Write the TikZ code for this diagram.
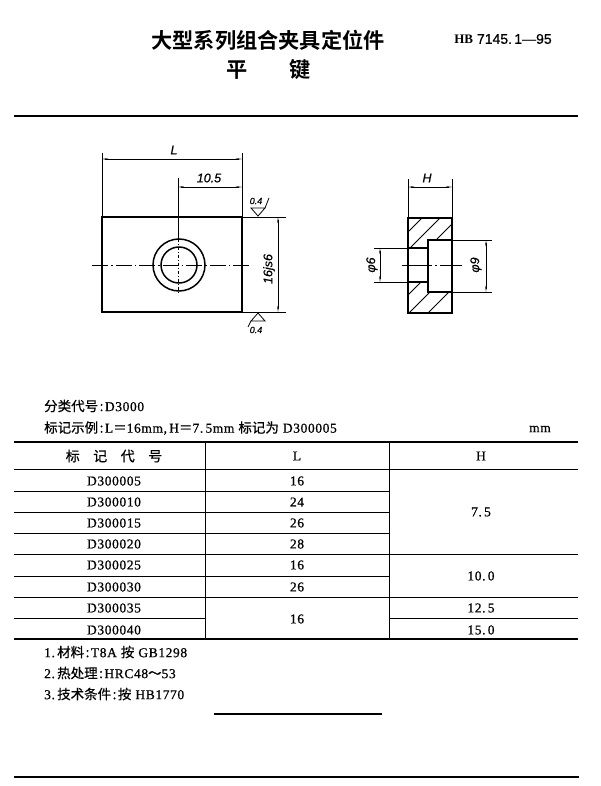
\documentclass[tikz,border=0pt]{standalone}
\usepackage{fontspec}
\usetikzlibrary{arrows.meta}
\setmainfont[FakeBold=0.7,LetterSpace=4.5]{Liberation Serif}
\newfontfamily\cjk[FakeBold=0.5]{Noto Sans CJK SC}
\newfontfamily\cjkb[BoldFont={Noto Sans CJK SC Bold}]{Noto Sans CJK SC}
\newfontfamily\drw[FakeBold=0.6]{Liberation Sans}
\newfontfamily\hbf{Liberation Serif}
\newcommand{\fs}[1]{\fontsize{#1}{#1}\selectfont}
\newcommand{\co}{\hspace{1.5pt}{\cjk :}\hspace{1.5pt}}
\tikzset{
  thick line/.style={line width=1.6pt,black},
  thin line/.style={line width=0.8pt,black},
  med line/.style={line width=1.5pt,black},
  dimline/.style={line width=0.8pt,black,{Stealth[length=6pt,width=1.8pt]}-{Stealth[length=6pt,width=1.8pt]}},
  center line/.style={line width=0.8pt,black,dash pattern=on 16pt off 3pt on 1.5pt off 3pt},
  drawing label/.style={inner sep=0pt,font=\drw\itshape\fs{12.5}},
  rough label/.style={inner sep=0pt,font=\drw\itshape\fs{9}},
  cell/.style={inner sep=0pt,font=\fs{13.5}},
  lefttext/.style={inner sep=0pt,anchor=west,font=\fs{13.5}},
  hatch/.style={line width=0.8pt,black}
}
\begin{document}
\begin{tikzpicture}[x=1pt,y=-1pt]
\useasboundingbox (0,0) rectangle (600,786);
\fill[white] (0,0) rectangle (600,786);
% title
\node[inner sep=0pt,font=\cjkb\bfseries\fs{21.2}] (title) at (268,40) {大型系列组合夹具定位件};
\node[inner sep=0pt,font=\cjkb\bfseries\fs{21.2}] (titleA) at (237,70) {平};
\node[inner sep=0pt,font=\cjkb\bfseries\fs{21.2}] (titleB) at (300,70) {键};
\node[inner sep=0pt,font=\drw\fs{14}] (code) at (503,39) {{\hbf\bfseries\fs{13}HB} 7145.\,1—95};
\draw[thick line] (14,116) -- (578,116);
\draw[thick line] (14,777) -- (579,777);
\draw[thick line] (214,714) -- (382,714);
% front view
\draw[med line] (102,217) rectangle (242,312);
\draw[center line] (92,265) -- (252,265);
\draw[thin line] (178,178) -- (178,239);
\draw[thin line,dash pattern=on 3pt off 2pt on 1pt off 2pt] (178,239) -- (178,295);
\draw[med line] (179,265) circle (26);
\draw[med line] (179,265) circle (18);
\draw[thin line] (102,153) -- (102,217);
\draw[thin line] (242,153) -- (242,217);
\draw[dimline] (102,159) -- (242,159);
\node[drawing label] (labL) at (174,150) {L};
\draw[dimline] (178,187) -- (242,187);
\node[drawing label] (lab105) at (209,178) {10.5};
\draw[thin line] (242,217) -- (286,217);
\draw[thin line] (242,312) -- (286,312);
\draw[dimline] (278,217) -- (278,312);
\node[drawing label,rotate=90] (labjs) at (269,269) {16js6};
% roughness marks
\draw[thin line] (258,216) -- (251,208) -- (265,208) -- cycle;
\draw[thin line] (265,208) -- (269,198);
\node[rough label] (r1) at (256,201) {0.4};
\draw[thin line] (258,313) -- (251,321) -- (265,321) -- cycle;
\draw[thin line] (251,321) -- (248,327);
\node[rough label] (r2) at (256,330) {0.4};
% section view
\begin{scope}
\clip (408,218) -- (452,218) -- (452,240) -- (428,240) -- (428,248) -- (408,248) -- cycle;
\foreach \s in {640,658,676}
  \draw[hatch] (\s-218,218) -- (\s-248,248);
\end{scope}
\begin{scope}
\clip (408,282) -- (428,282) -- (428,292) -- (452,292) -- (452,313) -- (408,313) -- cycle;
\foreach \s in {703,722,741}
  \draw[hatch] (\s-282,282) -- (\s-313,313);
\end{scope}
\draw[med line] (408,218) -- (452,218) -- (452,313) -- (408,313) -- cycle;
\draw[med line] (408,248) -- (428,248) -- (428,240) -- (452,240);
\draw[med line] (408,282) -- (428,282) -- (428,292) -- (452,292);
\draw[med line] (428,248) -- (428,282);
\draw[thin line,dash pattern=on 30pt off 3pt on 2pt off 3pt] (402,265) -- (462,265);
\draw[thin line] (408,179) -- (408,218);
\draw[thin line] (452,179) -- (452,218);
\draw[dimline] (408,187) -- (452,187);
\node[drawing label] (labH) at (427,178) {H};
\draw[thin line] (374,248) -- (408,248);
\draw[thin line] (374,282) -- (408,282);
\draw[dimline] (380,248) -- (380,282);
\node[drawing label,rotate=90] (labp6) at (372,265) {φ6};
\draw[thin line] (452,240) -- (492,240);
\draw[thin line] (452,292) -- (492,292);
\draw[dimline] (486,240) -- (486,292);
\node[drawing label,rotate=90] (labp9) at (476,265) {φ9};
% captions
\node[lefttext] (cap1) at (44,406) {{\cjk 分类代号}\co D3000};
\node[lefttext] (cap2) at (44,428) {{\cjk 标记示例}\co L{\cjk ＝}16mm,\,H{\cjk ＝}7.\,5mm {\cjk 标记为} D300005};
\node[inner sep=0pt,font=\fs{13.5}] (mm) at (540,429) {mm};
% table rules
\draw[thick line] (14,442) -- (578,442);
\draw[thin line] (14,469) -- (578,469);
\foreach \y in {491,512,533,576} \draw[thin line] (14,\y) -- (389,\y);
\draw[thin line] (14,554) -- (578,554);
\draw[thin line] (14,597) -- (578,597);
\draw[thin line] (14,618) -- (205,618);
\draw[thin line] (389,618) -- (578,618);
\draw[thick line] (14,639) -- (578,639);
\draw[thin line] (205,442) -- (205,639);
\draw[thin line] (389,442) -- (389,639);
% header
\node[cell,font=\cjk\fs{14}] (h1) at (114,456) {标\hspace{13.5pt}记\hspace{13.5pt}代\hspace{13.5pt}号};
\node[cell] (h2) at (297,456) {L};
\node[cell] (h3) at (481,456) {H};
% rows
\node[cell] (a1) at (114,481) {D300005};
\node[cell] (a2) at (114,502) {D300010};
\node[cell] (a3) at (114,523) {D300015};
\node[cell] (a4) at (114,544) {D300020};
\node[cell] (a5) at (114,565) {D300025};
\node[cell] (a6) at (114,587) {D300030};
\node[cell] (a7) at (114,608) {D300035};
\node[cell] (a8) at (114,630) {D300040};
\node[cell] (b1) at (297,481) {16};
\node[cell] (b2) at (297,502) {24};
\node[cell] (b3) at (297,523) {26};
\node[cell] (b4) at (297,544) {28};
\node[cell] (b5) at (297,565) {16};
\node[cell] (b6) at (297,587) {26};
\node[cell] (b7) at (297,619) {16};
\node[cell] (c1) at (481,512) {7.\,5};
\node[cell] (c2) at (481,576) {10.\,0};
\node[cell] (c3) at (481,608) {12.\,5};
\node[cell] (c4) at (481,630) {15.\,0};
% notes
\node[lefttext] (n1) at (44,652) {1.\,{\cjk 材料}\co T8A {\cjk 按} GB1298};
\node[lefttext] (n2) at (44,673) {2.\,{\cjk 热处理}\co HRC48{\cjk ～}53};
\node[lefttext] (n3) at (44,694) {3.\,{\cjk 技术条件}\co{\cjk 按} HB1770};
\end{tikzpicture}
\end{document}
